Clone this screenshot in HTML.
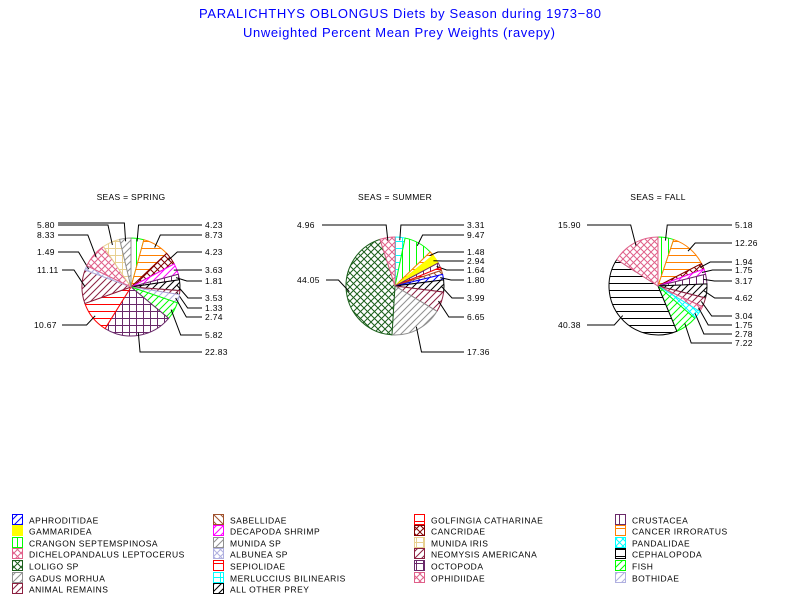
<!DOCTYPE html>
<html><head><meta charset="utf-8"><style>
body{margin:0;background:#fff;}
svg{display:block;font-family:"Liberation Sans",sans-serif;}
</style></head><body>
<svg id="s" width="800" height="600" xmlns="http://www.w3.org/2000/svg">
<defs id="d"></defs>
<text x="400" y="18" text-anchor="middle" font-size="13" fill="#0000ff" textLength="402">PARALICHTHYS OBLONGUS Diets by Season during 1973−80</text>
<text x="399" y="37" text-anchor="middle" font-size="13" fill="#0000ff" textLength="312">Unweighted Percent Mean Prey Weights (ravepy)</text>
<g id="g"></g>
</svg>
<script>
const NS="http://www.w3.org/2000/svg";
const d=document.getElementById('d'),g=document.getElementById('g');
function el(t,a,p){const e=document.createElementNS(NS,t);for(const k in a)e.setAttribute(k,a[k]);(p||g).appendChild(e);return e;}
const C={
aphro:['#0000ff','diag'],gamm:['#ffff00','solid'],crangon:['#00ff00','vline'],dichelo:['#e0608a','xcross'],
loligo:['#1a5e1a','xcross'],gadus:['#909090','diag'],animal:['#8b2040','diag'],sabell:['#a0522d','bdiag'],
decap:['#ff00ff','diag'],munida:['#909090','diag'],albunea:['#b0b0e0','xcross'],sepiol:['#ff0000','hline'],
merluc:['#00ffff','cross'],other:['#000000','diag'],golf:['#ff0000','hline'],cancrid:['#800000','xcross'],
munidai:['#e8d090','cross'],neomysis:['#8b2040','diag'],octo:['#6a2a6a','cross'],ophid:['#e0608a','xcross'],
crust:['#6a2a6a','vline'],cancer:['#ff8000','hline'],pandal:['#00ffff','xcross'],cephal:['#000000','hline'],
fish:['#00ff00','diag'],bothid:['#b0b0e0','diag']};
for(const k in C){const [c,t]=C[k];
 const p=el('pattern',{id:'p_'+k,width:7,height:7,patternUnits:'userSpaceOnUse'},d);
 el('rect',{width:7,height:7,fill:t=='solid'?c:'#fff'},p);
 const L=(a)=>el('path',{d:a,stroke:c,'stroke-width':1,fill:'none'},p);
 if(t=='hline')L('M0 3.5H7');
 if(t=='vline')L('M3.5 0V7');
 if(t=='diag')L('M0 7L7 0M-1 1L1 -1M6 8L8 6');
 if(t=='bdiag')L('M0 0L7 7M6 -1L8 1M-1 6L1 8');
 if(t=='cross')L('M0 3.5H7M3.5 0V7');
 if(t=='xcross')L('M0 7L7 0M0 0L7 7');
}
function pie(cx,cy,r,title,sl,labs){
 el('text',{x:cx,y:200,'text-anchor':'middle','font-size':8.5,'letter-spacing':0.3},null).textContent=title;
 let a=0;const tot=sl.reduce((s,x)=>s+x[1],0);
 sl.forEach((s,i)=>{const a0=a/tot*2*Math.PI,a1=(a+s[1])/tot*2*Math.PI;a+=s[1];
  const P=t=>[cx+r*Math.sin(t),cy-r*Math.cos(t)];
  const p0=P(a0),p1=P(a1),lg=(a1-a0)>Math.PI?1:0;
  const c=C[s[0]][0];
  el('path',{d:`M${cx} ${cy}L${p0[0]} ${p0[1]}A${r} ${r} 0 ${lg} 1 ${p1[0]} ${p1[1]}Z`,fill:`url(#p_${s[0]})`,stroke:c,'stroke-width':1});
  const L=labs[i];if(!L)return;
  const m=(a0+a1)/2,q=[cx+(r-3)*Math.sin(m),cy-(r-3)*Math.cos(m)],q2=[cx+(r+8)*Math.sin(m),cy-(r+8)*Math.cos(m)];
  const right=L[0]>cx;const ex=right?L[0]-3:L[3];
  el('polyline',{points:`${q[0]},${q[1]} ${q2[0]},${L[1]} ${ex},${L[1]}`,fill:'none',stroke:'#000','stroke-width':1});
  el('text',{x:L[0],y:L[1]+3,'font-size':8.5,'letter-spacing':0.3}).textContent=L[2];
 });
}
pie(131,287,49,'SEAS = SPRING',
[['crangon',4.23],['cancer',8.73],['cancrid',4.23],['decap',3.63],['crust',1.81],['other',3.53],['animal',1.33],['bothid',2.74],['fish',5.82],['octo',22.83],['sepiol',10.67],['neomysis',11.11],['albunea',1.49],['ophid',8.33],['munidai',5.80],['gadus',3.72]],
[[205,225,'4.23'],[205,235,'8.73'],[205,252,'4.23'],[205,270,'3.63'],[205,281,'1.81'],[205,298,'3.53'],[205,308,'1.33'],[205,317,'2.74'],[205,335,'5.82'],[205,352,'22.83'],[34,325,'10.67',62],[37,270,'11.11',62],[37,252,'1.49',58],[37,235,'8.33',58],[37,225,'5.80',58],[37,223,'',58]]);
pie(395,286,49,'SEAS = SUMMER',
[['merluc',3.31],['crangon',9.47],['cancer',1.48],['gamm',2.94],['crust',1.64],['sepiol',1.0],['sabell',1.35],['aphro',1.80],['other',3.99],['animal',6.65],['gadus',17.36],['loligo',44.05],['ophid',4.96]],
[[467,225,'3.31'],[467,235,'9.47'],[467,252,'1.48'],[467,261,'2.94'],[467,270,'1.64'],null,null,[467,280,'1.80'],[467,298,'3.99'],[467,317,'6.65'],[467,352,'17.36'],[297,280,'44.05',326],[297,225,'4.96',322]]);
pie(658,286,49,'SEAS = FALL',
[['crangon',5.18],['cancer',12.26],['cancrid',1.94],['decap',1.75],['crust',3.17],['other',4.62],['animal',3.04],['ophid',1.75],['pandal',2.78],['fish',7.22],['cephal',40.38],['dichelo',15.90]],
[[735,225,'5.18'],[735,243,'12.26'],[735,262,'1.94'],[735,270,'1.75'],[735,281,'3.17'],[735,298,'4.62'],[735,316,'3.04'],[735,325,'1.75'],[735,334,'2.78'],[735,343,'7.22'],[558,325,'40.38',587],[558,225,'15.90',587]]);
const LG=[
[['aphro','APHRODITIDAE'],['gamm','GAMMARIDEA'],['crangon','CRANGON SEPTEMSPINOSA'],['dichelo','DICHELOPANDALUS LEPTOCERUS'],['loligo','LOLIGO SP'],['gadus','GADUS MORHUA'],['animal','ANIMAL REMAINS']],
[['sabell','SABELLIDAE'],['decap','DECAPODA SHRIMP'],['munida','MUNIDA SP'],['albunea','ALBUNEA SP'],['sepiol','SEPIOLIDAE'],['merluc','MERLUCCIUS BILINEARIS'],['other','ALL OTHER PREY']],
[['golf','GOLFINGIA CATHARINAE'],['cancrid','CANCRIDAE'],['munidai','MUNIDA IRIS'],['neomysis','NEOMYSIS AMERICANA'],['octo','OCTOPODA'],['ophid','OPHIDIIDAE']],
[['crust','CRUSTACEA'],['cancer','CANCER IRRORATUS'],['pandal','PANDALIDAE'],['cephal','CEPHALOPODA'],['fish','FISH'],['bothid','BOTHIDAE']]];
const xs=[12,213,414,615],ys=[520,531,543,554,566,578,589];
LG.forEach((col,ci)=>col.forEach((it,ri)=>{
 const x=xs[ci],y=ys[ri];
 el('rect',{x:x+0.5,y:y-5.5,width:10,height:10,fill:`url(#p_${it[0]})`,stroke:C[it[0]][0],'stroke-width':1});
 el('text',{x:x+17,y:y+3.5,'font-size':8.5,'letter-spacing':0.5}).textContent=it[1];
}));
</script>
</body></html>
